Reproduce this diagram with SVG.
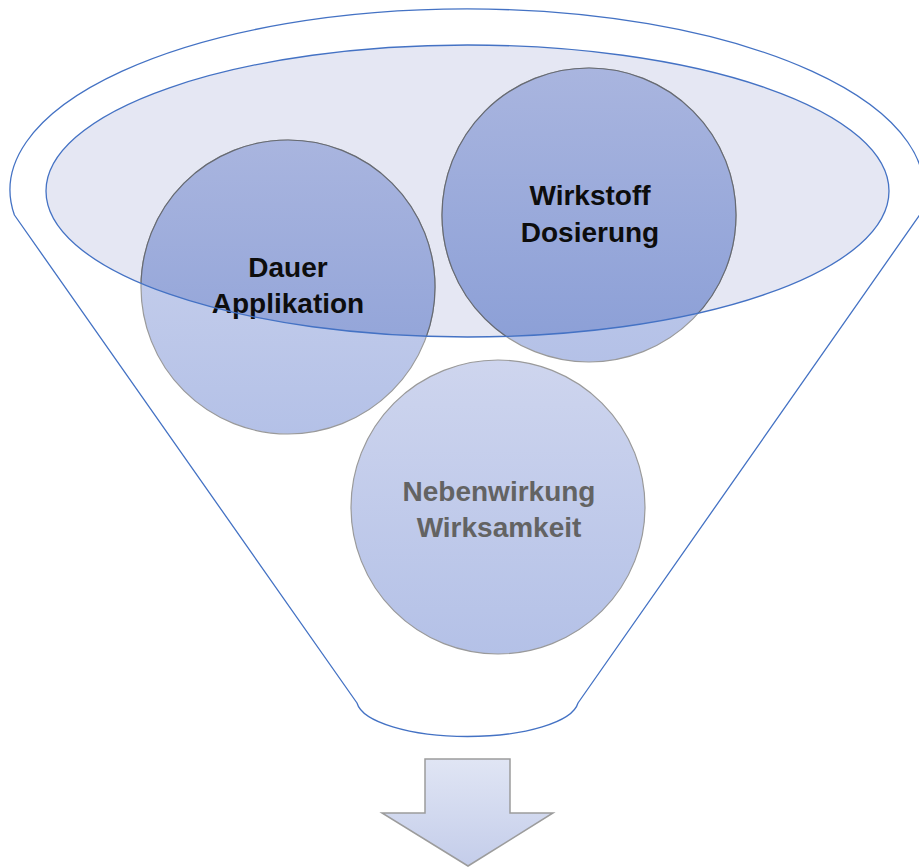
<svg xmlns="http://www.w3.org/2000/svg" width="919" height="867" viewBox="0 0 919 867">
<style>
.funnel{fill:#ffffff;stroke:#4472c4;stroke-width:1.3;stroke-linejoin:round}
.ell-fill{fill:#e5e7f3;stroke:none}
.ell-line{fill:none;stroke:#4472c4;stroke-width:1.3}
.circ{stroke:#9a9a9a;stroke-width:1.2}
.circ-dark{stroke:#666a72;stroke-width:1.2}
.lbl{font-family:"Liberation Sans",Arial,sans-serif;font-weight:bold;font-size:28px;text-anchor:middle}
.dark{fill:#0d0d0d}
.grey{fill:#636363}
.arrow{stroke:#9c9c9c;stroke-width:1.5;stroke-linejoin:miter}
</style>
<defs>
<linearGradient id="gLight" x1="0" y1="0" x2="0" y2="1">
<stop offset="0" stop-color="#ced5ee"/>
<stop offset="1" stop-color="#b4c1e7"/>
</linearGradient>
<linearGradient id="gDark" x1="0" y1="0" x2="0" y2="1">
<stop offset="0" stop-color="#a9b5df"/>
<stop offset="1" stop-color="#8a9ed6"/>
</linearGradient>
<linearGradient id="gArrow" x1="0" y1="0" x2="0" y2="1">
<stop offset="0" stop-color="#e0e5f4"/>
<stop offset="1" stop-color="#c4cdea"/>
</linearGradient>
<clipPath id="ellClip">
<ellipse cx="467.5" cy="191" rx="421.5" ry="146"/>
</clipPath>
</defs>

<g id="funnel">
<path class="funnel" d="M 14.4 215 A 457 181 0 1 1 919.6 215 L 578 703 A 111 37 0 0 1 357 703 Z"/>
</g>

<g id="inner-ellipse-fill">
<ellipse class="ell-fill" cx="467.5" cy="191" rx="421.5" ry="146"/>
</g>

<g id="node-dauer">
<circle class="circ" cx="288" cy="287" r="147" fill="url(#gLight)"/>
<circle class="circ-dark" cx="288" cy="287" r="147" fill="url(#gDark)" clip-path="url(#ellClip)"/>
</g>

<g id="node-wirkstoff">
<circle class="circ" cx="589" cy="215" r="147" fill="url(#gLight)"/>
<circle class="circ-dark" cx="589" cy="215" r="147" fill="url(#gDark)" clip-path="url(#ellClip)"/>
</g>

<g id="node-nebenwirkung">
<circle class="circ" cx="498" cy="507" r="147" fill="url(#gLight)"/>
<text class="lbl grey" x="499" y="501">Nebenwirkung</text>
<text class="lbl grey" x="499" y="537">Wirksamkeit</text>
</g>

<g id="labels-top">
<text class="lbl dark" x="288" y="277">Dauer</text>
<text class="lbl dark" x="288" y="313">Applikation</text>
<text class="lbl dark" x="590" y="205">Wirkstoff</text>
<text class="lbl dark" x="590" y="242">Dosierung</text>
</g>

<g id="inner-ellipse-line">
<ellipse class="ell-line" cx="467.5" cy="191" rx="421.5" ry="146"/>
</g>

<g id="connectors">
<polygon class="arrow" fill="url(#gArrow)" points="425,759 510,759 510,813 553,813 468,866 382,813 425,813"/>
</g>
</svg>
